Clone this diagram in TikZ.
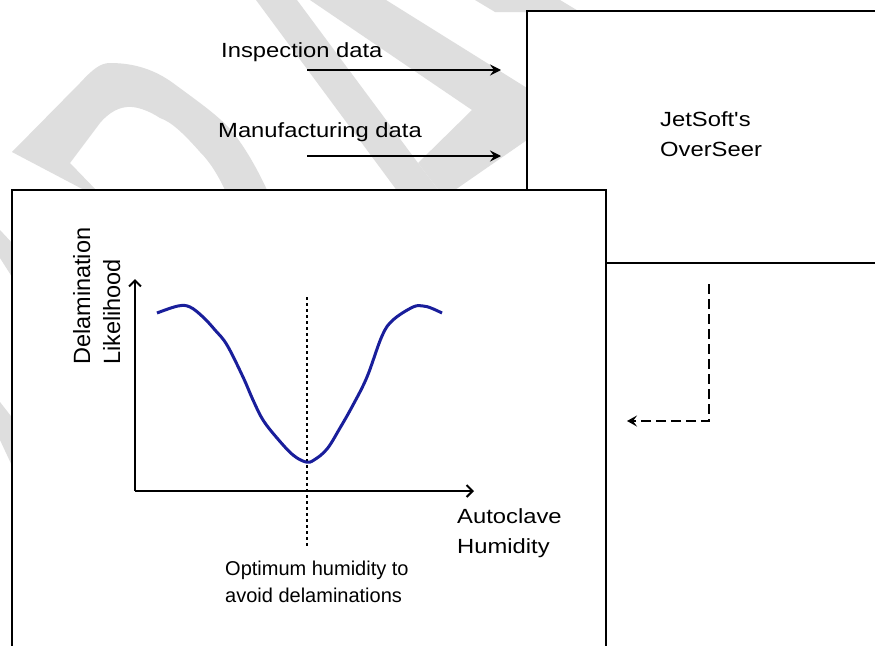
\documentclass[tikz,border=0pt]{standalone}
\usepackage{fontspec}
\setmainfont{Liberation Sans}
\newfontfamily\lblfont[FakeStretch=1.16]{Liberation Sans}
\usetikzlibrary{arrows.meta}
\definecolor{wm}{RGB}{222,222,222}
\definecolor{curveblue}{RGB}{25,30,155}
\tikzset{
  boxst/.style={draw=black, fill=white, line width=2pt, inner sep=0pt, outer sep=0pt},
  lbl/.style={font=\lblfont\fontsize{20.5}{24}\selectfont, inner sep=0pt, anchor=base west},
  axlbl/.style={font=\fontsize{23.5}{28}\selectfont, inner sep=0pt, anchor=base west, rotate=90},
  smalllbl/.style={font=\fontsize{20}{24}\selectfont, inner sep=0pt, anchor=base west},
  arr/.style={line width=2pt, -{Stealth[length=11pt,width=11pt,inset=4pt]}},
  axarr/.style={line width=2pt, -{Straight Barb[length=6pt,width=12pt]}},
  dasharr/.style={line width=2pt, dash pattern=on 10pt off 5pt, -{Stealth[length=10pt,width=11pt,inset=4pt]}},
  dotline/.style={line width=1.4pt, dash pattern=on 3pt off 3pt},
  curvest/.style={draw=curveblue, line width=3pt, line join=round}
}
\begin{document}
\begin{tikzpicture}[x=1pt,y=-1pt]
\useasboundingbox (0,0) rectangle (875,645);
\clip (0,0) rectangle (875,645);
\fill[white] (0,0) rectangle (875,645);
% watermark remnants
\fill[wm] (88,192) -- (12,152) -- (80,83) .. controls (92,70) and (100,63) .. (110,63)
  .. controls (135,63) and (155,70) .. (173,83) .. controls (200,103) and (222,118) .. (235,135)
  .. controls (250,155) and (260,175) .. (268,192) -- (226,192)
  .. controls (218,175) and (210,162) .. (200,152) .. controls (185,135) and (172,122) .. (160,118)
  .. controls (148,110) and (135,106) .. (127,107) .. controls (115,108) and (106,116) .. (100,123)
  -- (70,163) -- (98,192) -- cycle;
\fill[wm] (256,0) -- (297,0) -- (418,163) -- (440,192) -- (398,192) -- cycle;
\fill[wm] (310,0) -- (386,0) -- (527,88) -- (527,140) -- (452,192) -- (440,192) -- (418,163) -- (472,110) -- cycle;
\fill[wm] (475,0) -- (560,0) -- (580,12) -- (495,12) -- cycle;
\fill[wm] (0,230) -- (14,245) -- (14,280) -- (0,258) -- cycle;
\fill[wm] (0,402) -- (14,420) -- (14,470) -- (0,440) -- cycle;
% boxes
\node[boxst, minimum width=360pt, minimum height=252pt, anchor=north west] (ovs) at (527,11) {};
\node[boxst, minimum width=594pt, minimum height=470pt, anchor=north west] (plotbox) at (12,190) {};
% top labels and arrows
\node[lbl] (insp) at (221,57) {Inspection data};
\node[lbl] (manu) at (218,137) {Manufacturing data};
\coordinate (ia) at (307,70);
\coordinate (ib) at (501,70);
\coordinate (ma) at (307,156);
\coordinate (mb) at (501,156);
\draw[arr] (ia) -- (ib);
\draw[arr] (ma) -- (mb);
\node[lbl] (ovs1) at (660,126) {JetSoft's};
\node[lbl] (ovs2) at (660,156) {OverSeer};
% dashed feedback arrow
\coordinate (da) at (709,284);
\coordinate (db) at (709,421);
\coordinate (dc) at (627,421);
\draw[dasharr] (da) -- (db) -- (dc);
% plot
\coordinate (org) at (135,491);
\coordinate (ytop) at (135,279);
\coordinate (xend) at (474,491);
\draw[axarr] (org) -- (ytop);
\draw[axarr] (org) -- (xend);
\coordinate (opt1) at (307,297);
\coordinate (opt2) at (307,548);
\draw[dotline] (opt1) -- (opt2);
\draw[curvest] plot[smooth, tension=0.6] coordinates {
 (157,313) (178,306) (190,307) (203,317) (215,330) (227,345) (243,377) (253,400)
 (263,420) (277,438) (293,455) (306,462) (314,460) (327,449) (340,428) (353,405)
 (367,377) (382,336) (393,320) (413,307) (423,306) (431,308) (442,313)};
\node[axlbl] (yl1) at (90,365) {Delamination};
\node[axlbl] (yl2) at (120,365) {Likelihood};
\node[lbl] (xl1) at (457,523) {Autoclave};
\node[lbl] (xl2) at (457,553) {Humidity};
\node[smalllbl] (op1) at (225,575) {Optimum humidity to};
\node[smalllbl] (op2) at (225,602) {avoid delaminations};
\end{tikzpicture}
\end{document}
